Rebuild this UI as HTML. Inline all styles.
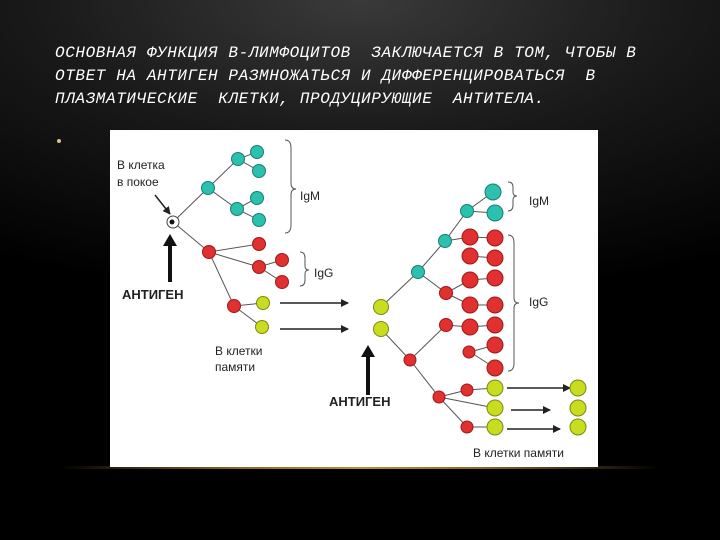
<!DOCTYPE html>
<html><head><meta charset="utf-8"><style>
body{margin:0;width:720px;height:540px;overflow:hidden;background:radial-gradient(ellipse 700px 300px at 360px 0px,#3a3a3a 0%,#1a1a1a 45%,#000 100%);}
.t{position:absolute;left:55px;color:#fff;font:italic 16px "Liberation Mono","DejaVu Sans Mono",monospace;letter-spacing:0.6px;white-space:pre;}
</style></head><body>
<div class="t" style="top:44px">ОСНОВНАЯ ФУНКЦИЯ В-ЛИМФОЦИТОВ  ЗАКЛЮЧАЕТСЯ В ТОМ, ЧТОБЫ В</div>
<div class="t" style="top:67px">ОТВЕТ НА АНТИГЕН РАЗМНОЖАТЬСЯ И ДИФФЕРЕНЦИРОВАТЬСЯ  В</div>
<div class="t" style="top:90px">ПЛАЗМАТИЧЕСКИЕ  КЛЕТКИ, ПРОДУЦИРУЮЩИЕ  АНТИТЕЛА.</div>
<div style="position:absolute;left:57px;top:139px;width:4px;height:4px;border-radius:2px;background:#d8c090"></div>
<div style="position:absolute;left:60px;top:466px;width:600px;height:3px;background:linear-gradient(90deg,transparent,#8a6a20 30%,#b89030 50%,#8a6a20 70%,transparent)"></div>
<svg style="position:absolute;left:0;top:0" width="720" height="540">
<defs>
<marker id="a" markerWidth="8" markerHeight="8" refX="7" refY="4" orient="auto" markerUnits="userSpaceOnUse"><path d="M0,0L8,4L0,8z" fill="#222"/></marker>
</defs>
<rect x="110" y="130" width="488" height="337" fill="#fff"/>
<g stroke="#555" stroke-width="1" fill="none">
<path d="M173,222L208,188L238,159L257,152M238,159L259,171M208,188L237,209L257,198M237,209L259,220M173,222L209,252L259,244M209,252L259,267L282,260M259,267L282,282M209,252L234,306L263,303M234,306L262,327"/>
<path d="M381,307L418,272L445,241L467,211L493,192M467,211L495,213M445,241L470,237L495,238M418,272L446,293L470,280L495,278M446,293L470,305L495,305M381,329L410,360L446,325L470,327L495,325M410,360L439,397L467,390L495,388M439,397L467,427L495,427M470,352L495,345M470,352L495,368M439,397L495,408M470,256L495,258"/>
<path d="M285,140q6,0 6,8v35q0,6 5,6q-5,0-5,6v30q0,8-6,8"/>
<path d="M300,252q5,0 5,6v8q0,4 4,4q-4,0-4,4v6q0,6-5,6"/>
<path d="M508,182q5,0 5,5v5q0,4 4,4q-4,0-4,4v5q0,6-5,6"/>
<path d="M508,235q6,0 6,8v55q0,5 5,5q-5,0-5,5v55q0,8-6,8"/>
</g>
<g stroke="#222" stroke-width="1.5" marker-end="url(#a)">
<line x1="280" y1="303" x2="348" y2="303"/><line x1="280" y1="329" x2="348" y2="329"/>
<line x1="507" y1="388" x2="570" y2="388"/><line x1="511" y1="410" x2="550" y2="410"/><line x1="507" y1="429" x2="560" y2="429"/>
<line x1="155" y1="195" x2="170" y2="214"/>
</g>
<path d="M168,282V246h-5l7,-12l7,12h-5v36z" fill="#111"/>
<path d="M366,395V357h-5l7,-12l7,12h-5v38z" fill="#111"/>
<circle cx="173" cy="222" r="6" fill="#fff" stroke="#444"/><circle cx="172" cy="222" r="2.5" fill="#111"/>
<g fill="#2cc0b0" stroke="#178070">
<circle cx="257" cy="152" r="6.5"/><circle cx="259" cy="171" r="6.5"/><circle cx="238" cy="159" r="6.5"/><circle cx="208" cy="188" r="6.5"/><circle cx="257" cy="198" r="6.5"/><circle cx="237" cy="209" r="6.5"/><circle cx="259" cy="220" r="6.5"/>
<circle cx="418" cy="272" r="6.5"/><circle cx="445" cy="241" r="6.5"/><circle cx="467" cy="211" r="6.5"/><circle cx="493" cy="192" r="8"/><circle cx="495" cy="213" r="8"/>
</g>
<g fill="#e03030" stroke="#a01818">
<circle cx="209" cy="252" r="6.5"/><circle cx="259" cy="244" r="6.5"/><circle cx="259" cy="267" r="6.5"/><circle cx="282" cy="260" r="6.5"/><circle cx="282" cy="282" r="6.5"/><circle cx="234" cy="306" r="6.5"/>
<circle cx="410" cy="360" r="6"/><circle cx="439" cy="397" r="6"/><circle cx="467" cy="390" r="6"/><circle cx="467" cy="427" r="6"/><circle cx="446" cy="293" r="6.5"/><circle cx="446" cy="325" r="6.5"/>
<circle cx="470" cy="237" r="8"/><circle cx="470" cy="256" r="8"/><circle cx="470" cy="280" r="8"/><circle cx="470" cy="305" r="8"/><circle cx="470" cy="327" r="8"/><circle cx="469" cy="352" r="6"/>
<circle cx="495" cy="238" r="8"/><circle cx="495" cy="258" r="8"/><circle cx="495" cy="278" r="8"/><circle cx="495" cy="305" r="8"/><circle cx="495" cy="325" r="8"/><circle cx="495" cy="345" r="8"/><circle cx="495" cy="368" r="8"/>
</g>
<g fill="#c8dc20" stroke="#7a8a10">
<circle cx="263" cy="303" r="6.5"/><circle cx="262" cy="327" r="6.5"/><circle cx="381" cy="307" r="7.5"/><circle cx="381" cy="329" r="7.5"/>
<circle cx="495" cy="388" r="8"/><circle cx="495" cy="408" r="8"/><circle cx="495" cy="427" r="8"/>
<circle cx="578" cy="388" r="8"/><circle cx="578" cy="408" r="8"/><circle cx="578" cy="427" r="8"/>
</g>
<g font-family="Liberation Sans,sans-serif" font-size="12" fill="#222">
<text x="117" y="169">В клетка</text><text x="117" y="186">в покое</text>
<text x="300" y="200">IgM</text><text x="314" y="277">IgG</text>
<text x="122" y="299" font-weight="bold" font-size="13">АНТИГЕН</text>
<text x="215" y="355">В клетки</text><text x="215" y="371">памяти</text>
<text x="329" y="406" font-weight="bold" font-size="13">АНТИГЕН</text>
<text x="529" y="205">IgM</text><text x="529" y="306">IgG</text>
<text x="473" y="457">В клетки памяти</text>
</g>
</svg>
</body></html>
